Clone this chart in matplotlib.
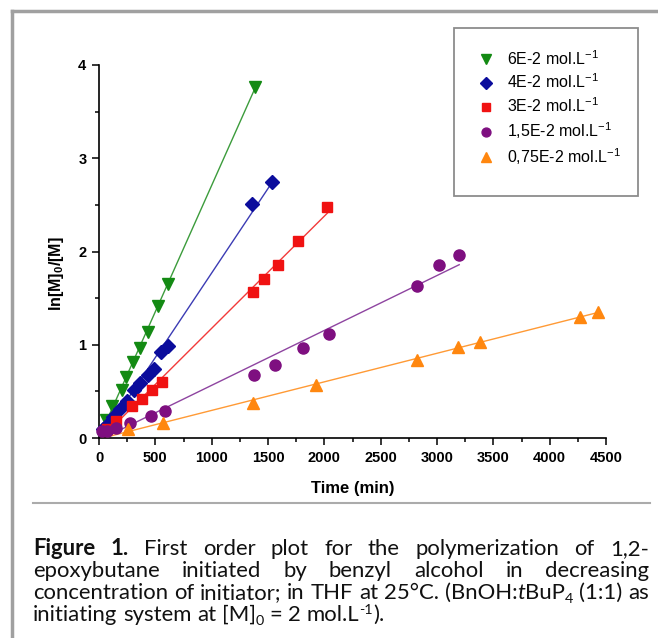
import matplotlib
matplotlib.use("Agg")
import matplotlib.pyplot as plt
import numpy as np
from matplotlib.lines import Line2D
from matplotlib.patches import Rectangle
from matplotlib.ticker import MultipleLocator
from matplotlib.transforms import IdentityTransform

plt.rcParams['font.family'] = ['Liberation Sans', 'DejaVu Sans']
plt.rcParams['mathtext.default'] = 'regular'

# time (min) and ln([M]0/[M]), one pair of lists per concentration
t_60 = [58, 118, 203, 240, 298, 367, 432, 521, 609, 1384]
v_60 = [0.19, 0.34, 0.52, 0.65, 0.82, 0.97, 1.14, 1.42, 1.65, 3.76]
t_40 = [33, 68, 127, 189, 245, 312, 364, 433, 485, 549, 608, 1360, 1532]
v_40 = [0.10, 0.14, 0.23, 0.31, 0.40, 0.52, 0.59, 0.68, 0.74, 0.92, 0.99, 2.51, 2.74]
t_30 = [68, 151, 290, 379, 467, 556, 1369, 1461, 1585, 1769, 2026]
v_30 = [0.10, 0.18, 0.34, 0.42, 0.51, 0.60, 1.57, 1.71, 1.86, 2.11, 2.48]
t_15 = [30, 68, 151, 275, 459, 586, 1375, 1562, 1807, 2041, 2825, 3017, 3197]
v_15 = [0.08, 0.07, 0.11, 0.16, 0.24, 0.29, 0.68, 0.78, 0.97, 1.11, 1.63, 1.85, 1.96]
t_075 = [260, 571, 1369, 1925, 2819, 3188, 3381, 4268, 4430]
v_075 = [0.10, 0.16, 0.38, 0.57, 0.84, 0.98, 1.03, 1.30, 1.35]

labels = ['6E-2 mol.L$^{-1}$', '4E-2 mol.L$^{-1}$', '3E-2 mol.L$^{-1}$',
          '1,5E-2 mol.L$^{-1}$', '0,75E-2 mol.L$^{-1}$']
x_ticks = [0, 500, 1000, 1500, 2000, 2500, 3000, 3500, 4000, 4500]
y_ticks = [0, 1, 2, 3, 4]

# caption, word by word: (text, kind) with kind b=bold, n=normal, i=italic, sub, sup
cap_lines = [
    [[('Figure', 'b')], [('1.', 'b')], [('First', 'n')], [('order', 'n')], [('plot', 'n')],
     [('for', 'n')], [('the', 'n')], [('polymerization', 'n')], [('of', 'n')], [('1,2-', 'n')]],
    [[('epoxybutane', 'n')], [('initiated', 'n')], [('by', 'n')], [('benzyl', 'n')],
     [('alcohol', 'n')], [('in', 'n')], [('decreasing', 'n')]],
    [[('concentration', 'n')], [('of', 'n')], [('initiator;', 'n')], [('in', 'n')], [('THF', 'n')],
     [('at', 'n')], [('25°C.', 'n')], [('(BnOH:', 'n'), ('t', 'i'), ('BuP', 'n'), ('4', 'sub')],
     [('(1:1)', 'n')], [('as', 'n')]],
    [[('initiating', 'n')], [('system', 'n')], [('at', 'n')], [('[M]', 'n'), ('0', 'sub')],
     [('=', 'n')], [('2', 'n')], [('mol.L', 'n'), ('-1', 'sup'), (').', 'n')]],
]

series = [(t_60, v_60, 'v', 8.5, '#138a13', '#3c9c3c'),
          (t_40, v_40, 'D', 7.5, '#0b0c9c', '#3c3cb4'),
          (t_30, v_30, 's', 7, '#f01212', '#f23a3a'),
          (t_15, v_15, 'o', 8, '#7e0f80', '#8e44a0'),
          (t_075, v_075, '^', 8.5, '#ff870f', '#ff9a35')]

W, H = 658, 638
fig = plt.figure(figsize=(W / 100, H / 100), dpi=100)
ax = fig.add_axes([99 / W, 1 - 438 / H, 507 / W, 373 / H])

handles = []
for t, v, mk, ms, col, lcol in series:
    k, b = np.polyfit(t, v, 1)
    xs = np.array([0, max(t)])
    ax.plot(xs, k * xs + b, color=lcol, lw=1.0, zorder=2)
    ax.plot(t, v, ls='none', marker=mk, ms=ms, color=col, mec=col, zorder=3, clip_on=False)
    handles.append(Line2D([], [], ls='none', marker=mk, ms=ms * 0.8, color=col, mec=col))

ax.set_xlim(0, 4500)
ax.set_ylim(0, 4)
ax.set_xticks(x_ticks)
ax.set_yticks(y_ticks)
ax.xaxis.set_minor_locator(MultipleLocator(250))
ax.yaxis.set_minor_locator(MultipleLocator(0.5))
for s in ['top', 'right']:
    ax.spines[s].set_visible(False)
for s in ['left', 'bottom']:
    ax.spines[s].set_linewidth(1.2)
ax.tick_params(which='major', direction='out', length=5, width=1.1, pad=4, labelsize=10.5)
ax.tick_params(which='minor', direction='out', length=3, width=1.1)
for lab in ax.get_xticklabels() + ax.get_yticklabels():
    lab.set_fontweight('bold')
ax.set_xlabel('Time (min)', fontsize=12, fontweight='bold', labelpad=12)
fig.text(56 / W, 1 - 274 / H, 'ln[M]$_0$/[M]', rotation=90, fontsize=11.5,
         fontweight='bold', ha='center', va='center')

leg = ax.legend(handles, labels, loc='upper left', bbox_to_anchor=(470 / W, 1 - 41 / H),
                bbox_transform=fig.transFigure, frameon=False, fontsize=11.5,
                handlelength=1.0, handletextpad=0.8, labelspacing=0.32, borderpad=0)
fig.patches.append(Rectangle((454, H - 196), 184, 168, transform=IdentityTransform(),
                             fill=False, ec='#8c8c8c', lw=1.3))

# outer frame of the page and the rule under the chart
fig.add_artist(Line2D([12, W], [H - 11, H - 11], transform=IdentityTransform(), color='#a0a0a0', lw=2.5))
fig.add_artist(Line2D([12, 12], [H - 11, 0], transform=IdentityTransform(), color='#a0a0a0', lw=2.5))
fig.add_artist(Line2D([33, 650], [H - 503, H - 503], transform=IdentityTransform(), color='#ababab', lw=1.5))

renderer = fig.canvas.get_renderer()
cap_family = ['Lato', 'DejaVu Sans']


def props(kind, fs):
    return dict(fontsize=fs * 0.65 if kind in ('sub', 'sup') else fs,
                fontweight='bold' if kind == 'b' else 'normal',
                fontstyle='italic' if kind == 'i' else 'normal',
                family=cap_family)


def seg_w(txt, kind, fs):
    tt = fig.text(0, 0, txt, transform=IdentityTransform(), **props(kind, fs))
    w = tt.get_window_extent(renderer).width
    tt.remove()
    return w


def word_w(word, fs):
    return sum(seg_w(s, k, fs) for s, k in word)


def line_w(line, fs):
    sp = seg_w('x x', 'n', fs) - seg_w('xx', 'n', fs)
    return sum(word_w(w, fs) for w in line) + sp * (len(line) - 1)


def draw_word(x, yb, word, fs):
    em = fs * 100 / 72
    for s, k in word:
        dy = -0.2 * em if k == 'sub' else (0.33 * em if k == 'sup' else 0)
        fig.text(x, H - yb + dy, s, transform=IdentityTransform(), ha='left',
                 va='baseline', color='#111111', **props(k, fs))
        x += seg_w(s, k, fs)


x0, x1 = 33, 649
# size the caption so that the tightest line (the third) just fits
fs0 = 12
fs = fs0 * (x1 - x0 - 4) / line_w(cap_lines[2], fs0)
space = seg_w('x x', 'n', fs) - seg_w('xx', 'n', fs)

baselines = [555, 577, 599, 621]
for i, line in enumerate(cap_lines):
    widths = [word_w(w, fs) for w in line]
    if i < len(cap_lines) - 1:
        gap = (x1 - x0 - sum(widths)) / (len(line) - 1)
    else:
        gap = space
    x = x0
    for w, ww in zip(line, widths):
        draw_word(x, baselines[i], w, fs)
        x += ww + gap

fig.savefig('out.png', dpi=100)
